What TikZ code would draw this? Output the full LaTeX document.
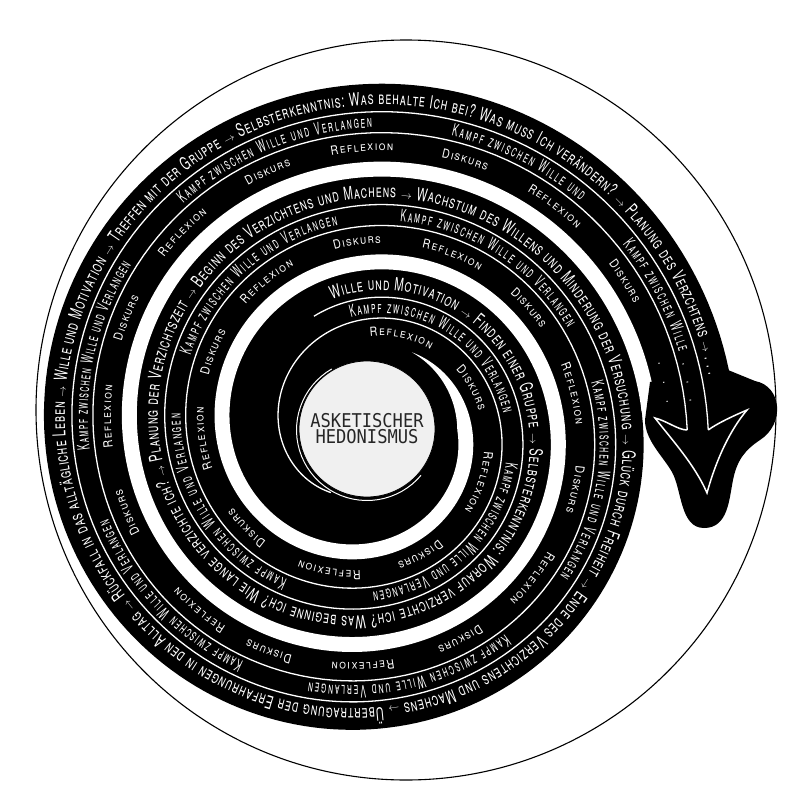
\documentclass[tikz,border=0pt]{standalone}
\usepackage{fontspec}
\usetikzlibrary{decorations.text}
\newfontfamily\spiralfont[FakeStretch=0.62,Letters=SmallCaps]{TeX Gyre Heros}
\newfontfamily\kampffont[FakeStretch=0.5,Letters=SmallCaps]{TeX Gyre Heros}
\newfontfamily\laufont[FakeStretch=0.85,Letters=SmallCaps]{TeX Gyre Heros}
\newfontfamily\kernfont[FakeStretch=0.9]{DejaVu Sans Mono}
\newcommand{\pfeil}{\fontsize{11}{11}\selectfont$\rightarrow$}
\tikzset{
  sepline/.style={white, line width=1.3pt},
  mainlane/.style={decorate, decoration={text along path, text color=white,
    text align=fit to path, text={|\spiralfont\fontsize{18}{18}\selectfont|#1}}},
  kampflane/.style={decorate, decoration={text along path, text color=white,
    text align=fit to path, text={|\kampffont\fontsize{17}{17}\selectfont|#1}}},
  innerlane/.style={decorate, decoration={text along path, text color=white,
    text align=fit to path, text={|\laufont\fontsize{12.5}{12.5}\selectfont|#1}}}
}

\begin{document}
\begin{tikzpicture}[x=1pt,y=-1pt,declare function={rsp(\a)=160+0.258333*(\a-270);}]
	\useasboundingbox (0,0) rectangle (800,800);
	\fill[white] (0,0) rectangle (800,800);
	\draw[line width=1.1pt] (406,410) circle[radius=370];
	\begin{scope}[shift={(367,430)}]
		\fill[black] plot[domain=715:1076, samples=200, variable=\t] ({\t}:{rsp(\t)}) -- cycle;
		\fill[white] plot[domain=300:1076, samples=500, variable=\t] ({\t}:{rsp(\t)-78})
			-- plot[domain=1076:300, samples=500, variable=\t] ({\t}:{rsp(\t)-78-15*min(1,(\t-300)/60)}) -- cycle;
		\coordinate (sepA) at (1080:{rsp(1080)-28});
		\coordinate (sepB) at (1080:{rsp(1080)-49});
	\end{scope}
	\fill[black] (650,382) -- (645,420) .. controls (645,440) and (662,455) .. (672,472)
		.. controls (682,490) and (680,528) .. (704,528) .. controls (728,528) and (729,500) .. (733,480)
		.. controls (737,460) and (745,450) .. (760,440) .. controls (785,424) and (782,386) .. (755,381)
		-- (728,370) -- cycle;
	\begin{scope}[shift={(367,430)}]
		\draw[sepline] plot[domain=245:1080, samples=400, variable=\t] ({\t}:{rsp(\t)-28});
		\draw[sepline] plot[domain=120:1080, samples=400, variable=\t] ({\t}:{rsp(\t)-49});
	\end{scope}
	\coordinate (barbL) at (655,418);
	\coordinate (tip) at (707,493);
	\coordinate (barbR) at (747,410);
	\filldraw[fill=black, draw=white, line width=1.5pt] (sepB) .. controls (678,430) and (667,421) .. (barbL)
		.. controls (672,440) and (695,465) .. (tip) .. controls (716,460) and (730,430) .. (barbR)
		.. controls (733,416) and (716,424) .. (sepA);
	\begin{scope}[shift={(367,430)}]
		\node[circle, draw=black, line width=0.8pt, fill=gray!12, minimum size=136pt, inner sep=0pt,
			align=center, text=black!85, font=\kernfont\fontsize{19}{16}\selectfont] (kern) at (0,-1) {ASKETISCHER\\HEDONISMUS};
		\draw[white, line width=1pt] plot[domain=40:240, samples=40, variable=\t] ({\t}:70.5);
		% Haupttext
		\path[mainlane={Wille und Motivation {\pfeil} Finden einer Gruppe {\pfeil} Selbsterkenntnis: Worauf verzichte ich? Was beginne ich? Wie lange verzichte ich? {\pfeil} Planung der Verzichtszeit {\pfeil} Beginn des Verzichtens und Machens {\pfeil} Wachstum des Willens und Minderung der Versuchung {\pfeil} Glück durch Freiheit {\pfeil} Ende des Verzichtens und Machens {\pfeil} Übertragung der Erfahrungen in den Alltag {\pfeil} Rückfall in das alltägliche Leben {\pfeil} Wille und Motivation {\pfeil} Treffen mit der Gruppe {\pfeil} Selbsterkenntnis: Was behalte Ich bei? Was muss Ich verändern? {\pfeil} Planung des Verzchtens {\pfeil} . . .}]
			plot[domain=255:1071, samples=700, variable=\t] ({\t}:{rsp(\t)-21});
		% Kampf
		\foreach \a/\b in {262/353, 373/448, 478/545, 563/622, 639/693, 708/757, 776/823, 838/881, 896/935, 951/991}
			\path[kampflane={Kampf zwischen Wille und Verlangen}] plot[domain=\a:\b, samples=60, variable=\t] ({\t}:{rsp(\t)-44});
		\path[kampflane={Kampf zwischen Wille und}] plot[domain=1006:1033, samples=40, variable=\t] ({\t}:{rsp(\t)-44});
		\path[kampflane={Kampf zwischen Wille}] plot[domain=1044:1066, samples=40, variable=\t] ({\t}:{rsp(\t)-44});
		\path[kampflane={. . .}] plot[domain=1068:1075, samples=10, variable=\t] ({\t}:{rsp(\t)-44});
		% Reflexion und Diskurs
		\foreach \m in {290,385,465,537,596,656,710,762,811,853,903,947,989,1030}{
			\pgfmathsetmacro\sa{\m-31/(rsp(\m)-67)*57.3}
			\pgfmathsetmacro\se{\m+31/(rsp(\m)-67)*57.3}
			\path[innerlane=Reflexion] plot[domain=\sa:\se, samples=25, variable=\t] ({\t}:{rsp(\t)-67});
		}
		\foreach \m in {338,427,501,567,627,683,736,786,834,881,925,969,1010,1050}{
			\pgfmathsetmacro\sa{\m-23.5/(rsp(\m)-67)*57.3}
			\pgfmathsetmacro\se{\m+23.5/(rsp(\m)-67)*57.3}
			\path[innerlane=Diskurs] plot[domain=\sa:\se, samples=25, variable=\t] ({\t}:{rsp(\t)-67});
		}
		\path[innerlane={. . .}] plot[domain=1067:1075, samples=10, variable=\t] ({\t}:{rsp(\t)-67});
	\end{scope}
\end{tikzpicture}
\end{document}
